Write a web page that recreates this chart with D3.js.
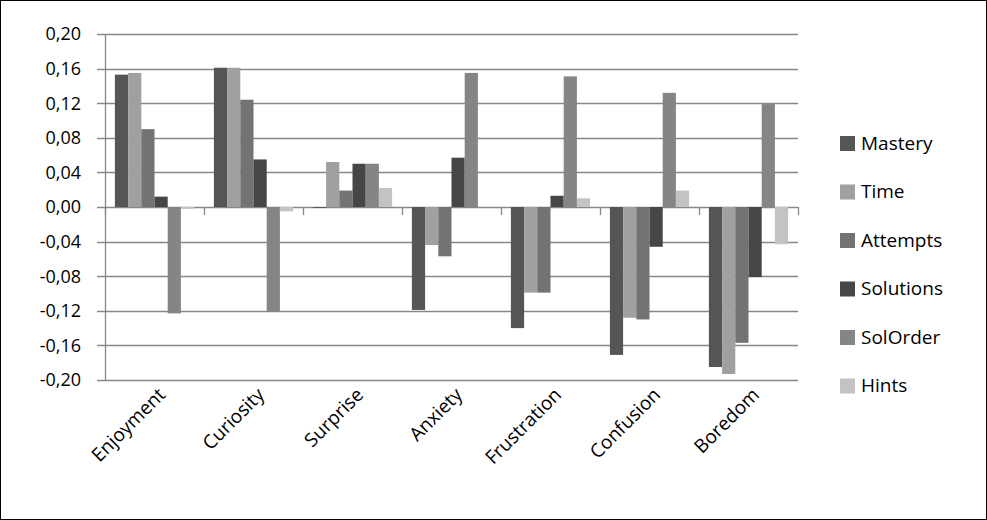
<!DOCTYPE html>
<html>
<head>
<meta charset="utf-8">
<script src="https://cdn.jsdelivr.net/npm/d3@7"></script>
<style>
  body { margin: 0; background: #fff; }
  text { font-family: "Open Sans", "Noto Sans", sans-serif; fill: #000; }
</style>
</head>
<body>
<svg id="chart" width="987" height="520"></svg>
<script>
  var categories = ["Enjoyment", "Curiosity", "Surprise", "Anxiety", "Frustration", "Confusion", "Boredom"];
  var seriesNames = ["Mastery", "Time", "Attempts", "Solutions", "SolOrder", "Hints"];
  var mastery   = [0.153, 0.161, -0.001, -0.119, -0.140, -0.171, -0.185];
  var time      = [0.155, 0.161, 0.052, -0.044, -0.099, -0.128, -0.193];
  var attempts  = [0.090, 0.124, 0.019, -0.057, -0.099, -0.130, -0.157];
  var solutions = [0.012, 0.055, 0.050, 0.057, 0.013, -0.046, -0.081];
  var solOrder  = [-0.123, -0.121, 0.050, 0.155, 0.151, 0.132, 0.119];
  var hints     = [-0.002, -0.005, 0.022, 0.000, 0.010, 0.019, -0.043];
  var yTicks = [0.20, 0.16, 0.12, 0.08, 0.04, 0, -0.04, -0.08, -0.12, -0.16, -0.20];

  var series = [mastery, time, attempts, solutions, solOrder, hints];
  var colors = ["#555555", "#a0a0a0", "#737373", "#464646", "#858585", "#c3c3c3"];

  var svg = d3.select("#chart");
  svg.append("rect").attr("x", 0.5).attr("y", 0.5).attr("width", 986).attr("height", 519)
    .attr("fill", "#fff").attr("stroke", "#000");

  var x = d3.scaleBand().domain(categories).range([105, 798]).paddingInner(0.2).paddingOuter(0.1);
  var x1 = d3.scaleBand().domain(seriesNames).range([0, x.bandwidth()]);
  var y = d3.scaleLinear().domain([-0.2, 0.2]).range([380, 34]);

  // gridlines
  svg.append("g").selectAll("line").data(yTicks).join("line")
    .attr("x1", 97).attr("x2", 798)
    .attr("y1", function (d) { return Math.round(y(d)) + 0.5; })
    .attr("y2", function (d) { return Math.round(y(d)) + 0.5; })
    .attr("stroke", "#888").attr("stroke-width", 1.3);

  svg.append("line").attr("x1", 105.5).attr("x2", 105.5).attr("y1", 34).attr("y2", 380)
    .attr("stroke", "#888").attr("stroke-width", 1.3);

  svg.append("g").selectAll("text").data(yTicks).join("text")
    .attr("x", 81).attr("y", function (d) { return y(d); })
    .attr("dy", "0.35em").attr("text-anchor", "end").attr("font-size", 18)
    .text(function (d) { return d3.format(".2f")(d).replace(".", ",").replace("−", "-"); });

  // bars
  var groups = svg.append("g").selectAll("g").data(categories).join("g")
    .attr("transform", function (d) { return "translate(" + x(d) + ",0)"; });
  groups.selectAll("rect").data(function (c, i) {
    return series.map(function (s, k) { return { name: seriesNames[k], v: s[i], k: k }; });
  }).join("rect")
    .attr("x", function (d) { return x1(d.name); })
    .attr("width", x1.bandwidth())
    .attr("y", function (d) { return y(Math.max(0, d.v)); })
    .attr("height", function (d) { return Math.abs(y(d.v) - y(0)); })
    .attr("fill", function (d) { return colors[d.k]; });

  // zero axis with ticks between categories
  svg.append("g").selectAll("line").data(d3.range(categories.length + 1)).join("line")
    .attr("x1", function (i) { return 105 + i * 99 + 0.5; })
    .attr("x2", function (i) { return 105 + i * 99 + 0.5; })
    .attr("y1", y(0)).attr("y2", y(0) + 8)
    .attr("stroke", "#888").attr("stroke-width", 1.3);

  // category labels
  svg.append("g").selectAll("text").data(categories).join("text")
    .attr("transform", function (d) {
      return "translate(" + (x(d) + x.bandwidth() / 2 + 12) + ",396) rotate(-45)";
    })
    .attr("text-anchor", "end").attr("font-size", 19)
    .text(function (d) { return d; });

  // legend
  var leg = svg.append("g").selectAll("g").data(seriesNames).join("g")
    .attr("transform", function (d, i) { return "translate(840," + (143 + i * 48.5) + ")"; });
  leg.append("rect").attr("x", 0).attr("y", -7).attr("width", 15).attr("height", 15)
    .attr("fill", function (d, i) { return colors[i]; });
  leg.append("text").attr("x", 21).attr("dy", "0.35em").attr("font-size", 19)
    .text(function (d) { return d; });
</script>
</body>
</html>
